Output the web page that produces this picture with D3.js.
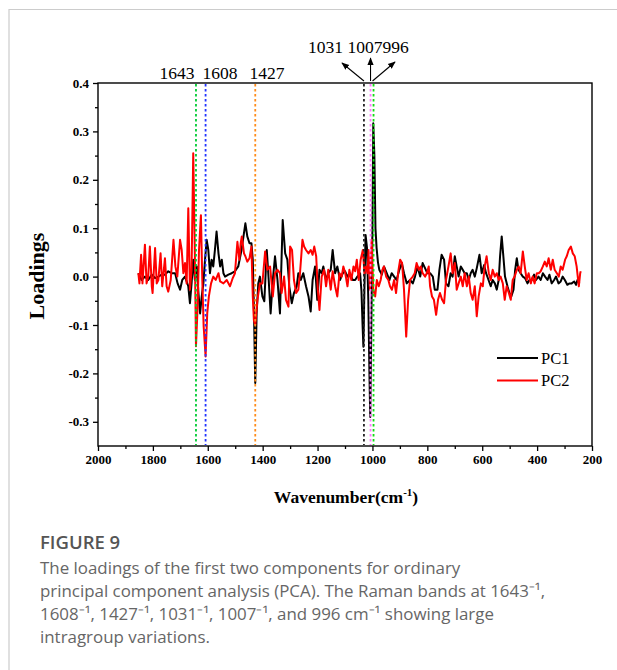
<!DOCTYPE html>
<html><head><meta charset="utf-8">
<script src="https://cdn.jsdelivr.net/npm/d3@7"></script>
<style>
body{margin:0;background:#fff;}
svg{display:block;}
</style></head>
<body>
<svg id="chart" width="617" height="670"></svg>
<script>
// ---------------- data ----------------
const pc1Wn = [1853,1841,1829,1817,1804,1792,1780,1768,1756,1744,1732,1719,1710,1701,1693,1683,1671,1665,1659,1653,1647,1640,1634,1628,1622,1616,1610,1604,1598,1592,1586,1580,1574,1568,1561,1555,1549,1543,1537,1525,1513,1501,1489,1477,1463,1456,1448,1441,1436,1432,1427,1422,1416,1410,1401,1394,1385,1378,1371,1363,1355,1346,1337,1327,1318,1310,1303,1294,1286,1276,1270,1261,1252,1242,1233,1225,1218,1209,1201,1193,1185,1179,1169,1161,1152,1145,1136,1128,1118,1108,1100,1091,1082,1072,1063,1055,1045,1040,1036,1033,1029,1025,1020,1015,1011,1008,1004,1000,997,993,989,985,980,975,966,958,948,938,930,921,912,902,893,885,875,863,853,845,836,826,817,808,800,790,780,773,763,756,748,739,732,723,715,708,700,693,686,678,671,664,656,649,642,635,627,620,610,602,593,586,577,569,562,554,547,540,535,529,523,517,508,501,494,486,480,474,468,460,452,444,435,428,420,411,404,395,387,379,371,362,355,347,338,331,322,314,307,299,290,282,274,265,258,253,246];
const pc1Val = [0.007,-0.007,0.000,-0.007,0.004,-0.003,0.000,0.004,0.004,0.011,0.007,0.007,-0.014,-0.027,-0.007,0.000,-0.020,-0.055,-0.014,0.035,-0.007,0.021,-0.034,-0.076,-0.041,-0.014,0.035,0.076,0.055,0.007,0.035,0.021,0.055,0.093,0.048,0.021,0.035,0.007,0.000,0.004,0.007,0.011,0.021,0.055,0.110,0.083,0.069,0.069,0.035,-0.062,-0.220,-0.076,-0.014,0.000,-0.041,-0.051,0.055,-0.007,-0.076,-0.007,0.042,-0.007,-0.076,0.117,0.048,0.035,-0.020,-0.055,-0.034,-0.020,0.007,-0.007,0.007,-0.020,-0.041,-0.072,-0.007,0.021,-0.048,0.014,0.007,0.021,-0.007,0.007,0.014,0.055,0.007,0.021,-0.007,0.007,0.011,0.000,0.007,-0.007,-0.007,0.000,0.007,-0.030,-0.100,-0.145,-0.020,0.086,0.060,-0.050,-0.200,-0.290,-0.100,0.100,0.317,0.250,0.100,0.060,0.030,0.014,0.004,0.021,0.007,-0.007,0.007,0.000,-0.007,0.014,0.028,0.007,-0.014,-0.007,-0.014,0.000,0.021,0.000,0.028,0.017,0.007,0.007,0.000,-0.027,-0.027,0.014,0.045,0.035,-0.014,-0.020,0.007,0.000,0.042,0.021,0.000,0.021,0.014,0.007,0.007,-0.007,0.007,0.014,0.000,0.017,0.045,0.007,0.024,0.007,-0.007,-0.020,-0.007,-0.014,-0.027,-0.007,0.042,0.083,0.042,0.000,-0.020,-0.034,-0.041,-0.027,0.014,0.038,0.014,0.007,0.000,-0.003,-0.014,-0.007,-0.007,0.004,-0.007,0.000,-0.007,0.007,0.000,-0.007,0.004,-0.014,-0.007,0.000,-0.014,-0.010,0.000,-0.007,-0.017,-0.014,-0.014,-0.010,-0.017,-0.007,-0.014];

const pc2Wn = [1853,1849,1843,1838,1829,1823,1817,1811,1804,1801,1792,1786,1780,1772,1766,1756,1750,1744,1735,1725,1718,1711,1701,1695,1689,1683,1677,1671,1665,1659,1653,1647,1643,1637,1632,1625,1620,1615,1608,1602,1596,1588,1580,1571,1561,1555,1543,1531,1519,1509,1501,1492,1485,1480,1476,1468,1463,1456,1448,1441,1436,1432,1427,1419,1410,1401,1391,1383,1373,1363,1355,1346,1337,1331,1322,1315,1306,1300,1293,1286,1278,1270,1264,1255,1249,1242,1233,1225,1218,1212,1205,1199,1193,1185,1176,1169,1161,1152,1145,1136,1128,1120,1112,1106,1099,1091,1084,1077,1069,1063,1057,1050,1043,1035,1029,1023,1018,1014,1009,1003,997,990,984,977,970,964,958,950,942,936,929,921,914,905,899,892,885,877,870,863,853,846,839,831,824,817,808,802,795,790,783,776,768,761,754,746,739,732,723,715,708,700,693,686,678,671,664,656,649,642,635,627,620,613,605,598,591,584,576,569,562,554,547,540,533,525,518,511,503,496,489,482,474,467,460,452,445,438,431,423,416,409,401,394,387,379,372,365,358,350,343,336,328,321,314,307,298,292,285,277,270,263,256,248,243,241];
const pc2Val = [0.007,-0.014,0.045,-0.014,0.066,-0.014,0.000,0.062,-0.020,-0.034,0.059,-0.014,-0.007,0.048,-0.020,0.038,-0.020,-0.031,-0.007,0.076,0.021,0.000,0.076,0.055,0.007,0.028,-0.014,0.141,-0.027,0.014,0.255,0.042,-0.144,-0.062,0.055,0.127,-0.007,-0.103,-0.165,-0.076,-0.041,-0.014,0.000,-0.007,0.007,-0.010,-0.014,-0.007,-0.020,-0.003,0.007,0.072,0.035,0.069,0.083,0.048,0.042,0.031,0.038,0.062,-0.041,-0.090,-0.100,-0.048,-0.014,-0.014,0.052,0.014,0.021,-0.041,0.007,0.014,0.007,-0.034,0.000,-0.048,-0.062,0.062,0.055,-0.007,-0.034,-0.027,0.007,0.076,0.062,0.055,0.048,0.055,0.045,0.062,0.042,-0.027,-0.069,0.000,0.014,-0.020,0.014,-0.027,0.011,-0.020,-0.041,0.007,0.000,0.021,0.007,-0.020,0.014,-0.007,0.021,0.011,0.035,-0.007,0.035,0.055,0.007,0.021,0.007,0.055,-0.027,0.076,-0.027,-0.041,-0.007,-0.020,-0.007,0.014,0.021,0.000,-0.007,-0.020,-0.027,-0.007,-0.034,0.014,0.035,0.028,-0.027,-0.124,-0.048,-0.007,0.000,0.007,0.028,0.014,0.021,0.007,0.000,0.007,0.021,-0.020,-0.041,-0.048,-0.079,-0.048,-0.034,-0.048,-0.055,-0.007,0.021,0.048,0.007,0.028,-0.027,-0.014,0.000,-0.020,0.007,-0.020,0.000,-0.034,-0.048,-0.020,-0.082,-0.041,-0.014,-0.020,0.021,0.042,0.007,-0.007,0.014,0.000,0.007,-0.007,0.000,-0.014,-0.048,-0.020,-0.034,-0.048,-0.007,0.000,0.014,0.021,0.007,0.052,0.021,-0.007,0.007,-0.014,0.000,-0.014,0.007,0.007,0.011,0.021,0.031,0.021,0.038,0.014,0.035,0.014,0.007,0.000,0.021,0.014,0.035,0.042,0.055,0.062,0.048,0.042,0.021,-0.020,0.007,0.011];

const seriesNames = ["PC1","PC2"];
const seriesColors = ["#000000","#ff0000"];

const bandWn = [1643,1608,1427,1031,1007,996];
const bandColors = ["#00cc33","#2233ff","#ff8c1a","#222222","#ff77ff","#11dd11"];
const bandLabelsLow = ["1643","1608","1427"];
const bandLabelsHigh = ["1031","1007","996"];

const xTicks = [2000,1800,1600,1400,1200,1000,800,600,400,200];
const xMinor = [1900,1700,1500,1300,1100,900,700,500,300];
const yTicks = [-0.3,-0.2,-0.1,0.0,0.1,0.2,0.3,0.4];
const yMinor = [-0.25,-0.15,-0.05,0.05,0.15,0.25,0.35];

const captionTitle = "FIGURE 9";
const captionLines = [
  "The loadings of the first two components for ordinary",
  "principal component analysis (PCA). The Raman bands at 1643\u207B\u00B9,",
  "1608\u207B\u00B9, 1427\u207B\u00B9, 1031\u207B\u00B9, 1007\u207B\u00B9, and 996 cm\u207B\u00B9 showing large",
  "intragroup variations."
];

// ---------------- drawing ----------------
const svg = d3.select("#chart");
svg.append("rect").attr("width",617).attr("height",670).attr("fill","#fff");

// card frame
svg.append("path").attr("d","M9,670 V9.5 H617").attr("fill","none").attr("stroke","#cccccc").attr("stroke-width",1.2);

const L=98, R=592, T=83, B=446;
const x = d3.scaleLinear().domain([2000,200]).range([L,R]);
const y = d3.scaleLinear().domain([-0.35,0.4]).range([B,T]);

const serif = '"Liberation Serif","Times New Roman",serif';

// series lines
const line = d3.line().x(d=>x(d[0])).y(d=>y(d[1]));
const s1 = pc1Wn.map((w,i)=>[w,pc1Val[i]]);
const s2 = pc2Wn.map((w,i)=>[w,pc2Val[i]]);
[s1,s2].forEach((s,i)=>{
  svg.append("path").datum(s).attr("d",line).attr("fill","none")
    .attr("stroke",seriesColors[i]).attr("stroke-width",2).attr("stroke-linejoin","round");
});

// band dotted lines
svg.selectAll(".band").data(bandWn).join("line")
  .attr("x1",d=>x(d)).attr("x2",d=>x(d)).attr("y1",T+1).attr("y2",B-1)
  .attr("stroke",(d,i)=>bandColors[i]).attr("stroke-width",1.8).attr("stroke-dasharray","2.5,2.5");

// frame box
svg.append("rect").attr("x",L).attr("y",T).attr("width",R-L).attr("height",B-T)
  .attr("fill","none").attr("stroke","#000").attr("stroke-width",1.4);

// axes
svg.append("g").attr("transform",`translate(0,${B})`)
  .call(d3.axisBottom(x).tickValues(xTicks).tickSize(5).tickPadding(4).tickFormat(d3.format("d")));
svg.append("g").attr("transform",`translate(0,${B})`)
  .call(d3.axisBottom(x).tickValues(xMinor).tickSize(3).tickFormat(""));
svg.append("g").attr("transform",`translate(${L},0)`)
  .call(d3.axisLeft(y).tickValues(yTicks).tickSize(5).tickPadding(4).tickFormat(d=>d.toFixed(1).replace("-0.0","0.0")));
svg.append("g").attr("transform",`translate(${L},0)`)
  .call(d3.axisLeft(y).tickValues(yMinor).tickSize(3).tickFormat(""));
svg.selectAll(".domain").remove();
svg.selectAll(".tick line").attr("stroke","#000").attr("stroke-width",1.3);
svg.selectAll(".tick text").attr("font-family",serif).attr("font-weight","bold").attr("font-size",13).attr("fill","#000");

// axis titles
svg.append("text").attr("transform","translate(44,276) rotate(-90)").attr("text-anchor","middle")
  .attr("font-family",serif).attr("font-weight","bold").attr("font-size",22).text("Loadings");
const xt = svg.append("text").attr("x",346).attr("y",503).attr("text-anchor","middle")
  .attr("font-family",serif).attr("font-weight","bold").attr("font-size",17.5);
xt.append("tspan").text("Wavenumber(cm");
xt.append("tspan").attr("dy",-7).attr("font-size",11).text("-1");
xt.append("tspan").attr("dy",7).text(")");

// band labels
const lowX = [177,220,267];
svg.selectAll(".bl").data(bandLabelsLow).join("text")
  .attr("x",(d,i)=>lowX[i]).attr("y",79).attr("text-anchor","middle")
  .attr("font-family",serif).attr("font-size",17.5).text(d=>d);
svg.append("text").attr("x",308).attr("y",53)
  .attr("font-family",serif).attr("font-size",17.5).text(bandLabelsHigh[0]+" "+bandLabelsHigh[1]+bandLabelsHigh[2]);

// arrows
const defs = svg.append("defs");
defs.append("marker").attr("id","ah").attr("viewBox","0 0 10 10").attr("refX",9).attr("refY",5)
  .attr("markerWidth",7).attr("markerHeight",7).attr("orient","auto-start-reverse")
  .append("path").attr("d","M0,1 L10,5 L0,9 Z").attr("fill","#000");
const arrows = [[x(1031),81,342,63],[x(1007),81,x(1007),58],[x(996)-1,81,395,62]];
svg.selectAll(".arr").data(arrows).join("line")
  .attr("x1",d=>d[0]).attr("y1",d=>d[1]).attr("x2",d=>d[2]).attr("y2",d=>d[3])
  .attr("stroke","#000").attr("stroke-width",1.1).attr("marker-end","url(#ah)");

// legend
seriesNames.forEach((n,i)=>{
  const ly = 358 + i*22.5;
  svg.append("line").attr("x1",497).attr("x2",538).attr("y1",ly).attr("y2",ly)
    .attr("stroke",seriesColors[i]).attr("stroke-width",2);
  svg.append("text").attr("x",541).attr("y",ly+5.5).attr("font-family",serif).attr("font-size",16.5).text(n);
});

// caption
svg.append("text").attr("x",40).attr("y",549).attr("font-family",'"Open Sans",sans-serif')
  .attr("font-weight",600).attr("font-size",18.5).attr("fill","#555").text(captionTitle);
svg.selectAll(".cap").data(captionLines).join("text")
  .attr("x",40).attr("y",(d,i)=>574+i*23).attr("font-family",'"Open Sans",sans-serif')
  .attr("font-size",16.9).attr("fill","#666").text(d=>d);
</script>
</body></html>
